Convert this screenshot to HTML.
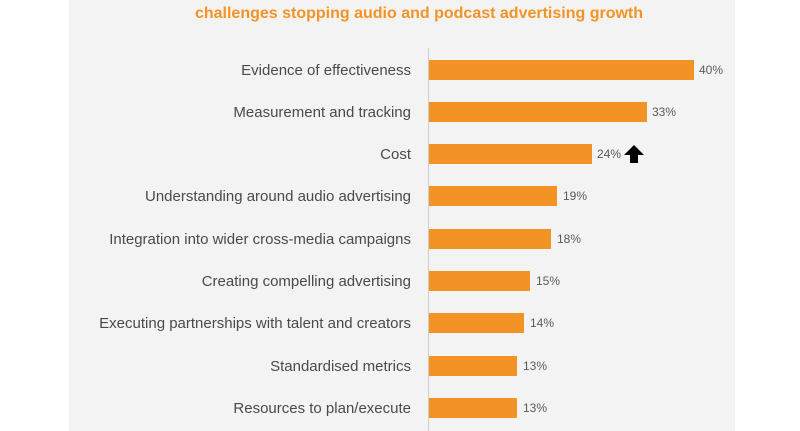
<!DOCTYPE html>
<html><head><style>
body{margin:0;width:800px;height:431px;background:#fff;position:relative;overflow:hidden;font-family:"Liberation Sans",sans-serif}
.panel{position:absolute;left:69px;top:0;width:666px;height:431px;background:#f3f3f3}
.title{position:absolute;left:69px;width:700px;top:5px;text-align:center;color:#f39325;font-weight:bold;font-size:16px}
.axis{position:absolute;left:428px;top:48px;width:1px;height:383px;background:#ccc}
.lab{position:absolute;right:389px;font-size:15px;color:#4a4a4a;white-space:nowrap;line-height:20px;margin-top:1px}
.bar{position:absolute;left:429px;height:20px;background:#f39325}
.val{position:absolute;font-size:12px;color:#5a5a5a;line-height:20px}
</style></head><body>
<div class="panel"></div>
<div class="title">challenges stopping audio and podcast advertising growth</div>
<div class="axis"></div>
<div class="lab" style="top:60px">Evidence of effectiveness</div><div class="bar" style="top:60px;width:265px"></div><div class="val" style="top:60px;left:699px">40%</div>
<div class="lab" style="top:102px">Measurement and tracking</div><div class="bar" style="top:102px;width:218px"></div><div class="val" style="top:102px;left:652px">33%</div>
<div class="lab" style="top:144px">Cost</div><div class="bar" style="top:144px;width:163px"></div><div class="val" style="top:144px;left:597px">24%</div>
<svg style="position:absolute;left:623px;top:144px" width="22" height="20"><polygon points="11,1 21,11 15,11 15,19 7,19 7,11 1,11" fill="#000"/></svg>
<div class="lab" style="top:186px">Understanding around audio advertising</div><div class="bar" style="top:186px;width:128px"></div><div class="val" style="top:186px;left:563px">19%</div>
<div class="lab" style="top:229px">Integration into wider cross-media campaigns</div><div class="bar" style="top:229px;width:122px"></div><div class="val" style="top:229px;left:557px">18%</div>
<div class="lab" style="top:271px">Creating compelling advertising</div><div class="bar" style="top:271px;width:101px"></div><div class="val" style="top:271px;left:536px">15%</div>
<div class="lab" style="top:313px">Executing partnerships with talent and creators</div><div class="bar" style="top:313px;width:95px"></div><div class="val" style="top:313px;left:530px">14%</div>
<div class="lab" style="top:356px">Standardised metrics</div><div class="bar" style="top:356px;width:88px"></div><div class="val" style="top:356px;left:523px">13%</div>
<div class="lab" style="top:398px">Resources to plan/execute</div><div class="bar" style="top:398px;width:88px"></div><div class="val" style="top:398px;left:523px">13%</div>
</body></html>
